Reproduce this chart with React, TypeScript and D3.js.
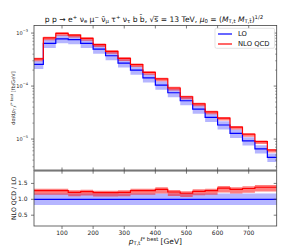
import { useEffect, useRef } from 'react';
import * as d3 from 'd3';

// bin edges in GeV
const binEdges = [0, 40, 80, 120, 160, 200, 240, 280, 320, 360, 400, 440, 480, 520, 560, 600, 640, 680, 720, 760, 800];
// LO differential cross section [fb/GeV]
const loValues = [2.56e-4, 6.39e-4, 7.8e-4, 7.5e-4, 6.4e-4, 4.99e-4, 3.73e-4, 2.72e-4, 2.0e-4, 1.43e-4, 1.04e-4, 7.48e-5, 5.28e-5, 3.68e-5, 2.57e-5, 1.84e-5, 1.28e-5, 9.2e-6, 6.5e-6, 4.5e-6];
// NLO / LO ratio per bin
const kFactor = [1.27, 1.27, 1.27, 1.22, 1.24, 1.21, 1.21, 1.22, 1.27, 1.27, 1.31, 1.23, 1.19, 1.25, 1.27, 1.35, 1.31, 1.34, 1.38, 1.38];
// scale-variation envelopes (relative to central)
const loScale = [0.82, 1.18];
const nloScale = [0.9, 1.05];

const xTicks = [100, 200, 300, 400, 500, 600, 700];
const yTicksMain = [1e-5, 1e-4, 1e-3];
const yTicksRatio = [0.5, 1.0, 1.5];
const legendLabels = ['LO', 'NLO QCD'];

type Seg = { t: string; s?: 'sup' | 'sub'; i?: boolean };

const titleSegs: Seg[] = [
  { t: 'p p → e' }, { t: '+', s: 'sup' }, { t: ' ν' }, { t: 'e', s: 'sub' },
  { t: ' μ' }, { t: '−', s: 'sup' }, { t: ' ν̄' }, { t: 'μ', s: 'sub' },
  { t: ' τ' }, { t: '+', s: 'sup' }, { t: ' ν' }, { t: 'τ', s: 'sub' },
  { t: ' b b̄, √s̅ = 13 TeV, ' }, { t: 'μ', i: true }, { t: '0', s: 'sub' }, { t: ' = (' }, { t: 'M', i: true }, { t: 'T,t', s: 'sub' },
  { t: ' ' }, { t: 'M', i: true }, { t: 'T,t̄', s: 'sub' }, { t: ')' }, { t: '1/2', s: 'sup' },
];

const App = () => {
  const ref = useRef<SVGSVGElement | null>(null);

  useEffect(() => {
    if (!ref.current) return;
    const svg = d3.select(ref.current);
    svg.selectAll('*').remove();

    const left = 34, right = 276.7;
    const mTop = 25.5, mBot = 170.5;
    const rTop = 170.7, rBot = 226;
    const font = 'DejaVu Sans, sans-serif';
    const axisColor = '#444';

    const x = d3.scaleLinear().domain([10, 790]).range([left, right]);
    const y = d3.scaleLog().domain([2.55e-6, 1.39e-3]).range([mBot, mTop]);
    const yr = d3.scaleLinear().domain([0.16, 1.9]).range([rBot, rTop]);

    const nBins = loValues.length;
    const idx = d3.range(nBins + 1);
    const val = (arr: number[], i: number) => arr[Math.min(i, nBins - 1)];

    const defs = svg.append('defs');
    defs.append('clipPath').attr('id', 'clipMain').append('rect')
      .attr('x', left).attr('y', mTop).attr('width', right - left).attr('height', mBot - mTop);
    defs.append('clipPath').attr('id', 'clipRatio').append('rect')
      .attr('x', left).attr('y', rTop).attr('width', right - left).attr('height', rBot - rTop);

    const stepArea = (yS: (v: number) => number, lo: (i: number) => number, hi: (i: number) => number) =>
      d3.area<number>().curve(d3.curveStepAfter)
        .x(i => x(binEdges[i])).y0(i => yS(lo(i))).y1(i => yS(hi(i)));
    const stepLine = (yS: (v: number) => number, f: (i: number) => number) =>
      d3.line<number>().curve(d3.curveStepAfter).x(i => x(binEdges[i])).y(i => yS(f(i)));

    const blueBand = 'rgba(70,70,255,0.4)';
    const redBand = 'rgba(255,20,20,0.55)';

    // main panel
    const gm = svg.append('g').attr('clip-path', 'url(#clipMain)');
    const lo = (i: number) => val(loValues, i);
    const nlo = (i: number) => val(loValues, i) * val(kFactor, i);
    gm.append('path').attr('d', stepArea(y, i => lo(i) * loScale[0], i => lo(i) * loScale[1])(idx))
      .attr('fill', blueBand);
    gm.append('path').attr('d', stepArea(y, i => nlo(i) * nloScale[0], i => nlo(i) * nloScale[1])(idx))
      .attr('fill', redBand);
    gm.append('path').attr('d', stepLine(y, lo)(idx)).attr('fill', 'none').attr('stroke', '#0000ff').attr('stroke-width', 1.2);
    gm.append('path').attr('d', stepLine(y, nlo)(idx)).attr('fill', 'none').attr('stroke', '#ff0000').attr('stroke-width', 1.2);

    // ratio panel
    const gr = svg.append('g').attr('clip-path', 'url(#clipRatio)');
    const k = (i: number) => val(kFactor, i);
    gr.append('path').attr('d', stepArea(yr, () => loScale[0], () => loScale[1])(idx)).attr('fill', blueBand);
    gr.append('path').attr('d', stepArea(yr, i => k(i) * nloScale[0], i => k(i) * nloScale[1])(idx)).attr('fill', redBand);
    gr.append('path').attr('d', stepLine(yr, () => 1)(idx)).attr('fill', 'none').attr('stroke', '#0000ff').attr('stroke-width', 1.2);
    gr.append('path').attr('d', stepLine(yr, k)(idx)).attr('fill', 'none').attr('stroke', '#ff0000').attr('stroke-width', 1.2);

    // frames
    svg.append('rect').attr('x', left).attr('y', mTop).attr('width', right - left).attr('height', mBot - mTop)
      .attr('fill', 'none').attr('stroke', axisColor).attr('stroke-width', 0.8);
    svg.append('rect').attr('x', left).attr('y', rTop).attr('width', right - left).attr('height', rBot - rTop)
      .attr('fill', 'none').attr('stroke', axisColor).attr('stroke-width', 0.8);
    svg.append('line').attr('x1', left).attr('x2', right).attr('y1', (mBot + rTop) / 2).attr('y2', (mBot + rTop) / 2)
      .attr('stroke', '#777').attr('stroke-width', 2);

    const tick = (x1: number, y1: number, x2: number, y2: number, w = 0.7) =>
      svg.append('line').attr('x1', x1).attr('y1', y1).attr('x2', x2).attr('y2', y2)
        .attr('stroke', axisColor).attr('stroke-width', w);

    // x ticks
    xTicks.forEach(t => {
      const px = x(t);
      tick(px, mTop, px, mTop + 3);
      tick(px, mBot - 3, px, rTop + 3);
      tick(px, rBot, px, rBot + 3);
      svg.append('text').attr('x', px).attr('y', rBot + 8.5).attr('text-anchor', 'middle')
        .attr('font-family', font).attr('font-size', 6).attr('fill', '#222').text(t);
    });

    // y ticks main (log)
    yTicksMain.forEach(t => {
      const py = y(t);
      tick(left - 3, py, left, py);
      tick(right - 3, py, right, py);
      const e = Math.round(Math.log10(t));
      const txt = svg.append('text').attr('x', left - 6).attr('y', py + 1.8).attr('text-anchor', 'end')
        .attr('font-family', font).attr('font-size', 5).attr('fill', '#222');
      txt.append('tspan').text('10');
      txt.append('tspan').attr('dy', -2.5).attr('font-size', 3.6).text(`−${-e}`);
    });
    [1e-6, 1e-5, 1e-4, 1e-3].forEach(d => {
      for (let m = 2; m <= 9; m++) {
        const v = d * m;
        const [d0, d1] = y.domain();
        if (v < d0 || v > d1) continue;
        const py = y(v);
        tick(left - 1.6, py, left, py, 0.5);
        tick(right - 1.6, py, right, py, 0.5);
      }
    });

    // y ticks ratio
    yTicksRatio.forEach(t => {
      const py = yr(t);
      tick(left - 3, py, left, py);
      tick(right - 3, py, right, py);
      svg.append('text').attr('x', left - 6.5).attr('y', py + 2).attr('text-anchor', 'end')
        .attr('font-family', font).attr('font-size', 6).attr('fill', '#222').text(t.toFixed(1));
    });

    // rich text helper
    const rich = (sel: d3.Selection<SVGTextElement, unknown, null, undefined>, segs: Seg[], size: number) => {
      let cur = 0;
      segs.forEach(s => {
        const target = s.s === 'sup' ? -size * 0.38 : s.s === 'sub' ? size * 0.22 : 0;
        sel.append('tspan').attr('dy', target - cur).attr('font-size', s.s ? size * 0.7 : size)
          .attr('font-style', s.i ? 'italic' : 'normal').text(s.t);
        cur = target;
      });
    };

    // title
    const title = svg.append('text').attr('x', 154).attr('y', 21.5).attr('text-anchor', 'middle')
      .attr('font-family', font).attr('fill', '#111');
    rich(title, titleSegs, 7.6);

    // y label main
    const yl = svg.append('text').attr('transform', `translate(15,${(mTop + mBot) / 2}) rotate(-90)`)
      .attr('text-anchor', 'middle').attr('font-family', font).attr('fill', '#333');
    rich(yl, [{ t: 'dσ/d' }, { t: 'p', i: true }, { t: 'T,t', s: 'sub' }, { t: 'ℓ* best', s: 'sup' }, { t: ' [fb/GeV]' }], 5);

    // y label ratio
    svg.append('text').attr('transform', `translate(15.5,${(rTop + rBot) / 2}) rotate(-90)`)
      .attr('text-anchor', 'middle').attr('font-family', font).attr('font-size', 6.3).attr('fill', '#222')
      .text('NLO QCD / LO');

    // x label
    const xl = svg.append('text').attr('x', (left + right) / 2).attr('y', 243.5).attr('text-anchor', 'middle')
      .attr('font-family', font).attr('fill', '#111');
    rich(xl, [{ t: 'p', i: true }, { t: 'T,t', s: 'sub' }, { t: 'ℓ* best', s: 'sup' }, { t: ' [GeV]' }], 7.5);

    // legend
    const lg = svg.append('g');
    lg.append('rect').attr('x', 215).attr('y', 28.3).attr('width', 59.5).attr('height', 20).attr('rx', 1.5)
      .attr('fill', 'rgba(255,255,255,0.85)').attr('stroke', '#d8d8d8').attr('stroke-width', 0.7);
    const colors = ['#0000ff', '#ff0000'];
    legendLabels.forEach((l, i) => {
      const ly = 34 + i * 10;
      lg.append('line').attr('x1', 218).attr('x2', 232).attr('y1', ly).attr('y2', ly)
        .attr('stroke', colors[i]).attr('stroke-width', 1.2);
      lg.append('text').attr('x', 238).attr('y', ly + 2.4).attr('font-family', font).attr('font-size', 6.8)
        .attr('fill', '#111').text(l);
    });
  }, []);

  return (
    <div>
      <svg ref={ref} width={288} height={252} style={{ position: 'absolute', left: 0, top: 0 }}></svg>
    </div>
  );
};

export default App;
